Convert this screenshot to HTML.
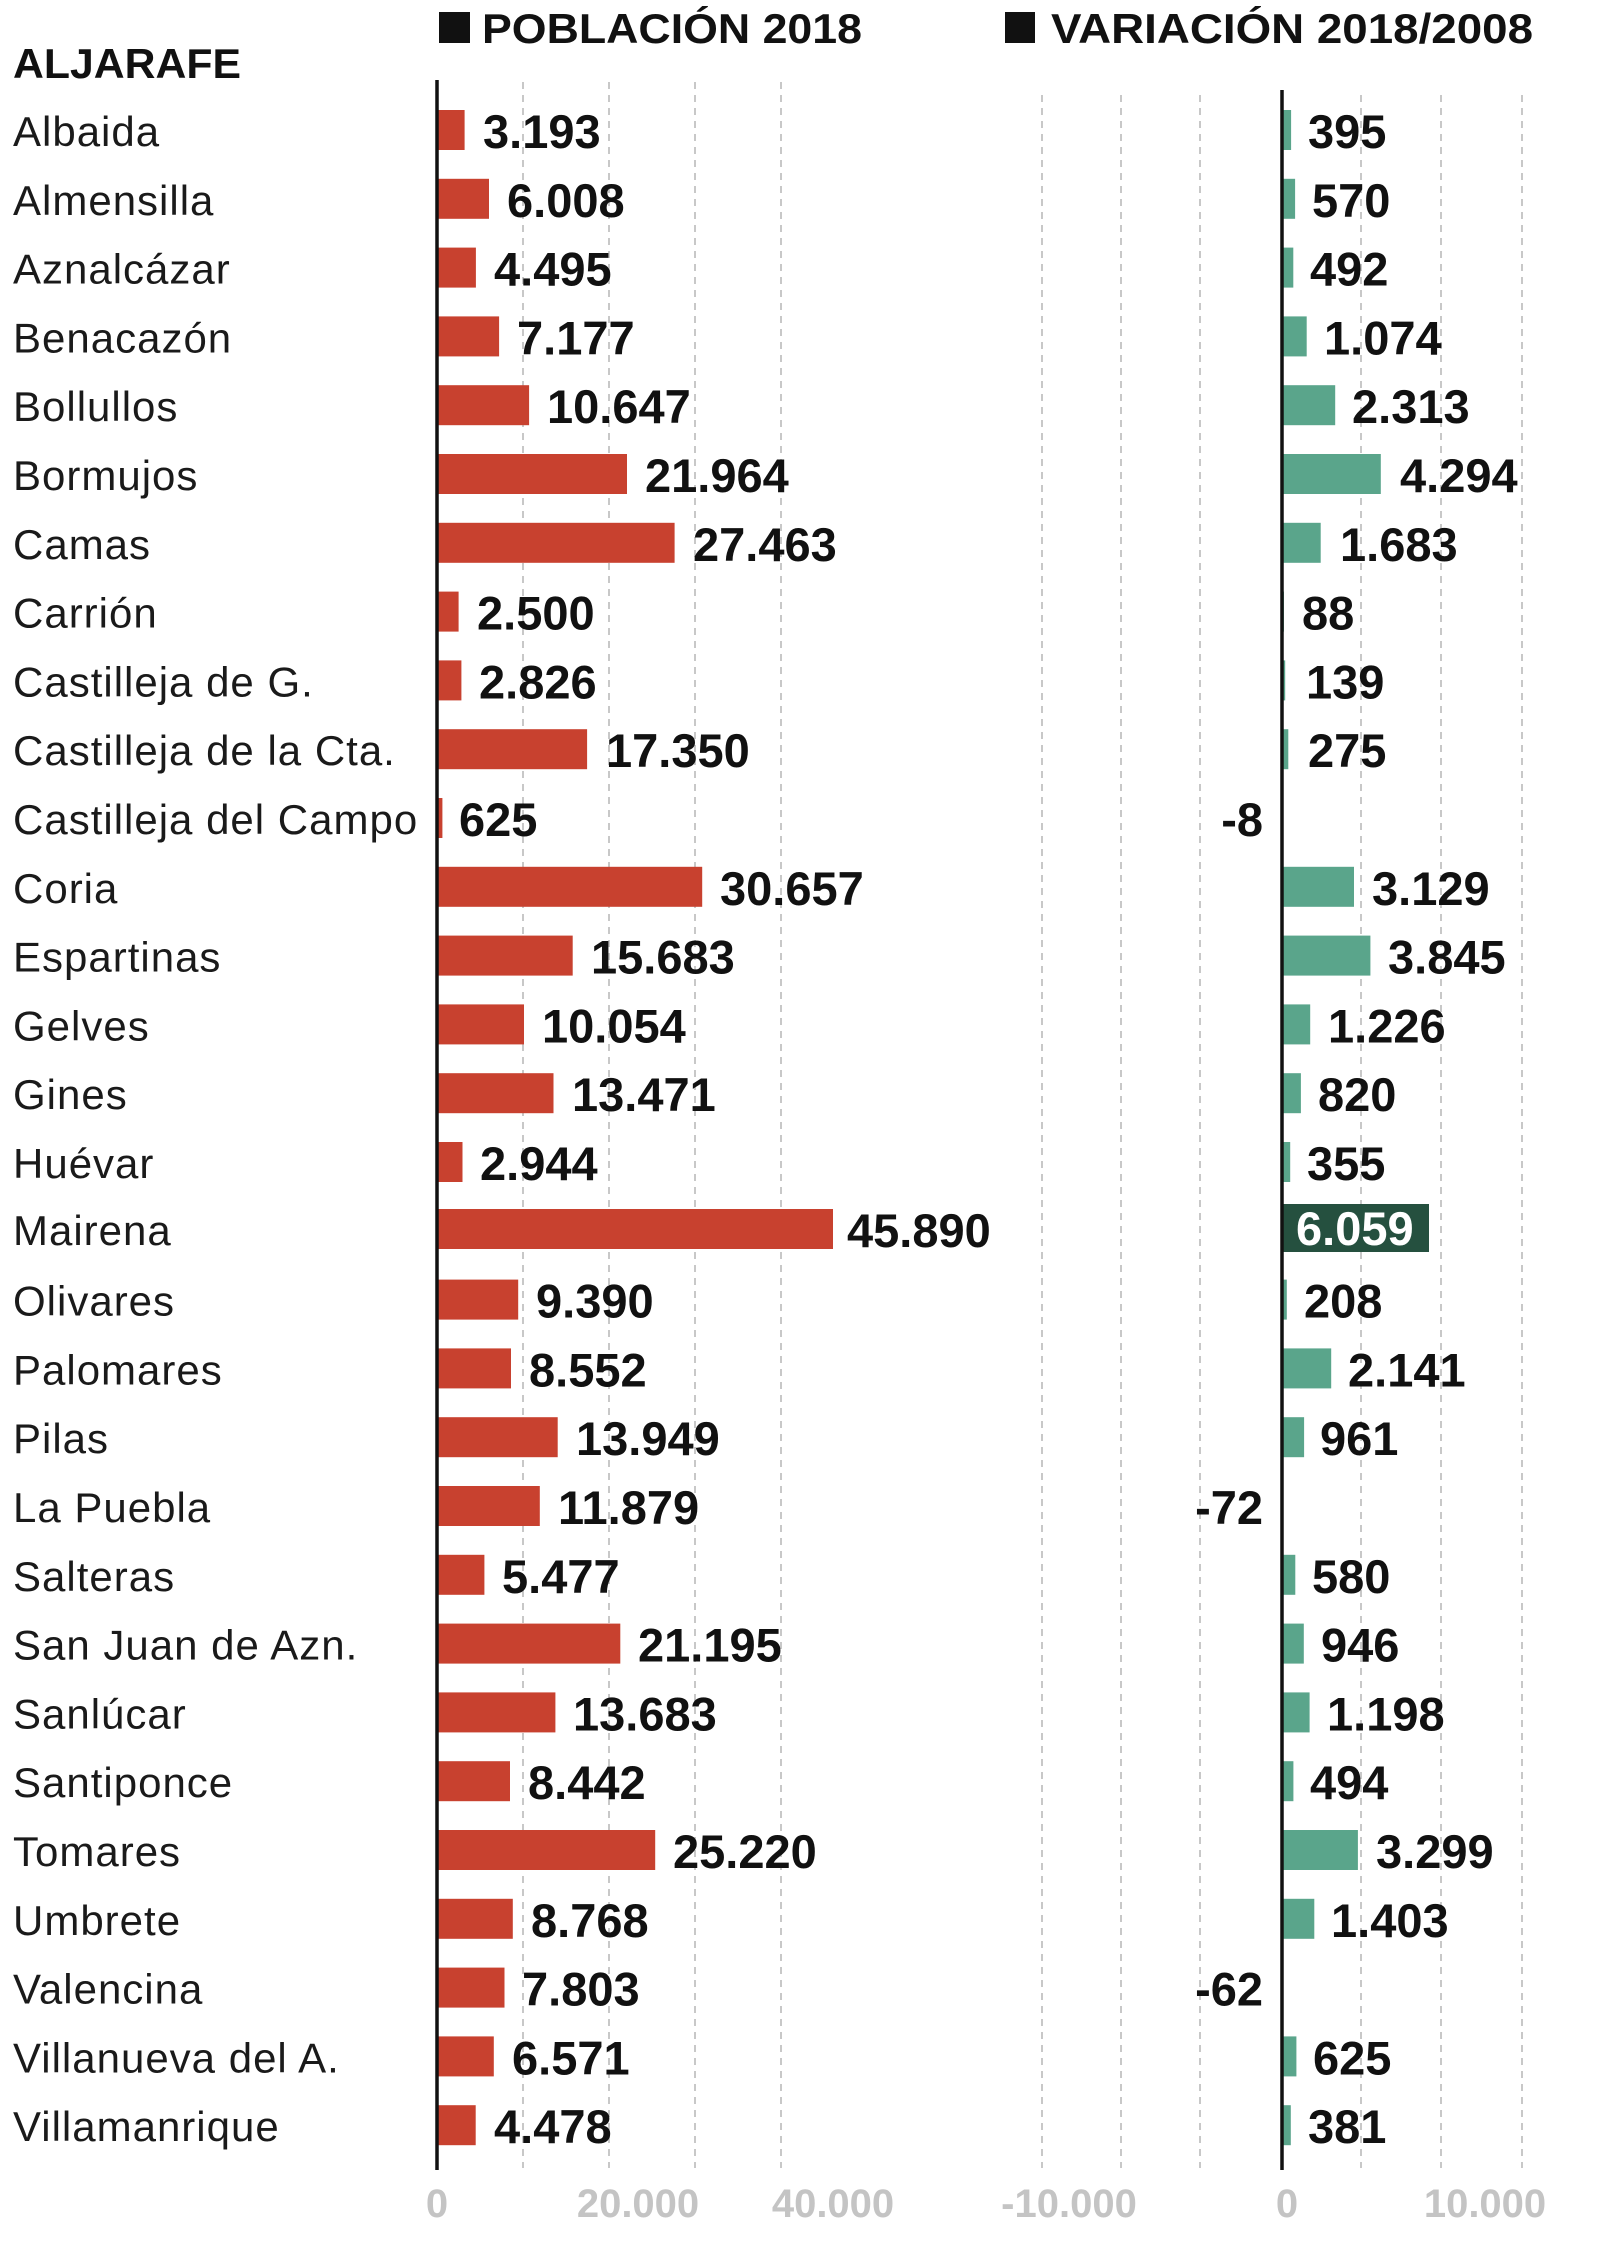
<!DOCTYPE html>
<html><head><meta charset="utf-8"><style>
html,body{margin:0;padding:0;background:#fff}
svg{display:block}
.n{font-family:"Liberation Sans",sans-serif;font-size:42px;letter-spacing:1px;fill:#1a1a1a}
.v{font-family:"Liberation Sans",sans-serif;font-weight:bold;font-size:47px;fill:#111}
.t{font-family:"Liberation Sans",sans-serif;font-weight:bold;font-size:40px;fill:#c4c4c4}
.h{font-family:"Liberation Sans",sans-serif;font-weight:bold;font-size:42px;fill:#111}
.r{fill:#c8412f}.g{fill:#5aa58b}
.gl{stroke:#c8c8c8;stroke-width:2;stroke-dasharray:7 6}
</style></head><body>
<svg width="1600" height="2245" viewBox="0 0 1600 2245" xmlns="http://www.w3.org/2000/svg">
<rect x="439" y="12" width="31" height="31" fill="#111"/>
<text class="h" x="482" y="43" textLength="380" lengthAdjust="spacingAndGlyphs">POBLACIÓN 2018</text>
<rect x="1005" y="12" width="30" height="31" fill="#111"/>
<text class="h" x="1051" y="43" textLength="482" lengthAdjust="spacingAndGlyphs">VARIACIÓN 2018/2008</text>
<text class="h" x="13" y="78" textLength="228" lengthAdjust="spacingAndGlyphs">ALJARAFE</text>
<g class="gl">
<line x1="523" y1="82" x2="523" y2="2168"/><line x1="609" y1="82" x2="609" y2="2168"/><line x1="695" y1="82" x2="695" y2="2168"/><line x1="781" y1="82" x2="781" y2="2168"/>
<line x1="1042" y1="95" x2="1042" y2="2168"/><line x1="1121" y1="95" x2="1121" y2="2168"/><line x1="1200" y1="95" x2="1200" y2="2168"/><line x1="1361" y1="95" x2="1361" y2="2168"/><line x1="1441" y1="95" x2="1441" y2="2168"/><line x1="1522" y1="95" x2="1522" y2="2168"/>
</g>
<g transform="translate(0,130)"><text class="n" x="13" y="16">Albaida</text><rect class="r" x="437" y="-20" width="27.6" height="40"/><text class="v" x="483" y="18">3.193</text><rect class="g" x="1282" y="-20" width="9.1" height="40"/><text class="v" x="1308" y="18">395</text></g>
<g transform="translate(0,198.8)"><text class="n" x="13" y="16">Almensilla</text><rect class="r" x="437" y="-20" width="52" height="40"/><text class="v" x="507" y="18">6.008</text><rect class="g" x="1282" y="-20" width="13.1" height="40"/><text class="v" x="1312" y="18">570</text></g>
<g transform="translate(0,267.6)"><text class="n" x="13" y="16">Aznalcázar</text><rect class="r" x="437" y="-20" width="38.9" height="40"/><text class="v" x="494" y="18">4.495</text><rect class="g" x="1282" y="-20" width="11.3" height="40"/><text class="v" x="1310" y="18">492</text></g>
<g transform="translate(0,336.4)"><text class="n" x="13" y="16">Benacazón</text><rect class="r" x="437" y="-20" width="62.1" height="40"/><text class="v" x="517" y="18">7.177</text><rect class="g" x="1282" y="-20" width="24.7" height="40"/><text class="v" x="1324" y="18">1.074</text></g>
<g transform="translate(0,405.2)"><text class="n" x="13" y="16">Bollullos</text><rect class="r" x="437" y="-20" width="92.1" height="40"/><text class="v" x="547" y="18">10.647</text><rect class="g" x="1282" y="-20" width="53.2" height="40"/><text class="v" x="1352" y="18">2.313</text></g>
<g transform="translate(0,474)"><text class="n" x="13" y="16">Bormujos</text><rect class="r" x="437" y="-20" width="190" height="40"/><text class="v" x="645" y="18">21.964</text><rect class="g" x="1282" y="-20" width="98.8" height="40"/><text class="v" x="1400" y="18">4.294</text></g>
<g transform="translate(0,542.8)"><text class="n" x="13" y="16">Camas</text><rect class="r" x="437" y="-20" width="237.6" height="40"/><text class="v" x="693" y="18">27.463</text><rect class="g" x="1282" y="-20" width="38.7" height="40"/><text class="v" x="1340" y="18">1.683</text></g>
<g transform="translate(0,611.6)"><text class="n" x="13" y="16">Carrión</text><rect class="r" x="437" y="-20" width="21.6" height="40"/><text class="v" x="477" y="18">2.500</text><rect class="g" x="1282" y="-20" width="2" height="40"/><text class="v" x="1302" y="18">88</text></g>
<g transform="translate(0,680.4)"><text class="n" x="13" y="16">Castilleja de G.</text><rect class="r" x="437" y="-20" width="24.4" height="40"/><text class="v" x="479" y="18">2.826</text><rect class="g" x="1282" y="-20" width="3.2" height="40"/><text class="v" x="1306" y="18">139</text></g>
<g transform="translate(0,749.2)"><text class="n" x="13" y="16">Castilleja de la Cta.</text><rect class="r" x="437" y="-20" width="150.1" height="40"/><text class="v" x="606" y="18">17.350</text><rect class="g" x="1282" y="-20" width="6.3" height="40"/><text class="v" x="1308" y="18">275</text></g>
<g transform="translate(0,818)"><text class="n" x="13" y="16">Castilleja del Campo</text><rect class="r" x="437" y="-20" width="5.4" height="40"/><text class="v" x="459" y="18">625</text><text class="v" x="1263" y="18" text-anchor="end">-8</text></g>
<g transform="translate(0,886.8)"><text class="n" x="13" y="16">Coria</text><rect class="r" x="437" y="-20" width="265.2" height="40"/><text class="v" x="720" y="18">30.657</text><rect class="g" x="1282" y="-20" width="72" height="40"/><text class="v" x="1372" y="18">3.129</text></g>
<g transform="translate(0,955.6)"><text class="n" x="13" y="16">Espartinas</text><rect class="r" x="437" y="-20" width="135.7" height="40"/><text class="v" x="591" y="18">15.683</text><rect class="g" x="1282" y="-20" width="88.4" height="40"/><text class="v" x="1388" y="18">3.845</text></g>
<g transform="translate(0,1024.4)"><text class="n" x="13" y="16">Gelves</text><rect class="r" x="437" y="-20" width="87" height="40"/><text class="v" x="542" y="18">10.054</text><rect class="g" x="1282" y="-20" width="28.2" height="40"/><text class="v" x="1328" y="18">1.226</text></g>
<g transform="translate(0,1093.2)"><text class="n" x="13" y="16">Gines</text><rect class="r" x="437" y="-20" width="116.5" height="40"/><text class="v" x="572" y="18">13.471</text><rect class="g" x="1282" y="-20" width="18.9" height="40"/><text class="v" x="1318" y="18">820</text></g>
<g transform="translate(0,1162)"><text class="n" x="13" y="16">Huévar</text><rect class="r" x="437" y="-20" width="25.5" height="40"/><text class="v" x="480" y="18">2.944</text><rect class="g" x="1282" y="-20" width="8.2" height="40"/><text class="v" x="1307" y="18">355</text></g>
<g transform="translate(0,1229)"><text class="n" x="13" y="16">Mairena</text><rect class="r" x="437" y="-20" width="396" height="40"/><text class="v" x="847" y="18">45.890</text><rect x="1282" y="-25" width="147" height="48" fill="#25503f"/><text class="v" x="1296" y="16" style="fill:#fff">6.059</text></g>
<g transform="translate(0,1299.6)"><text class="n" x="13" y="16">Olivares</text><rect class="r" x="437" y="-20" width="81.2" height="40"/><text class="v" x="536" y="18">9.390</text><rect class="g" x="1282" y="-20" width="4.8" height="40"/><text class="v" x="1304" y="18">208</text></g>
<g transform="translate(0,1368.4)"><text class="n" x="13" y="16">Palomares</text><rect class="r" x="437" y="-20" width="74" height="40"/><text class="v" x="529" y="18">8.552</text><rect class="g" x="1282" y="-20" width="49.2" height="40"/><text class="v" x="1348" y="18">2.141</text></g>
<g transform="translate(0,1437.2)"><text class="n" x="13" y="16">Pilas</text><rect class="r" x="437" y="-20" width="120.7" height="40"/><text class="v" x="576" y="18">13.949</text><rect class="g" x="1282" y="-20" width="22.1" height="40"/><text class="v" x="1320" y="18">961</text></g>
<g transform="translate(0,1506)"><text class="n" x="13" y="16">La Puebla</text><rect class="r" x="437" y="-20" width="102.8" height="40"/><text class="v" x="558" y="18">11.879</text><text class="v" x="1263" y="18" text-anchor="end">-72</text></g>
<g transform="translate(0,1574.8)"><text class="n" x="13" y="16">Salteras</text><rect class="r" x="437" y="-20" width="47.4" height="40"/><text class="v" x="502" y="18">5.477</text><rect class="g" x="1282" y="-20" width="13.3" height="40"/><text class="v" x="1312" y="18">580</text></g>
<g transform="translate(0,1643.6)"><text class="n" x="13" y="16">San Juan de Azn.</text><rect class="r" x="437" y="-20" width="183.3" height="40"/><text class="v" x="638" y="18">21.195</text><rect class="g" x="1282" y="-20" width="21.8" height="40"/><text class="v" x="1321" y="18">946</text></g>
<g transform="translate(0,1712.4)"><text class="n" x="13" y="16">Sanlúcar</text><rect class="r" x="437" y="-20" width="118.4" height="40"/><text class="v" x="573" y="18">13.683</text><rect class="g" x="1282" y="-20" width="27.6" height="40"/><text class="v" x="1327" y="18">1.198</text></g>
<g transform="translate(0,1781.2)"><text class="n" x="13" y="16">Santiponce</text><rect class="r" x="437" y="-20" width="73" height="40"/><text class="v" x="528" y="18">8.442</text><rect class="g" x="1282" y="-20" width="11.4" height="40"/><text class="v" x="1310" y="18">494</text></g>
<g transform="translate(0,1850)"><text class="n" x="13" y="16">Tomares</text><rect class="r" x="437" y="-20" width="218.2" height="40"/><text class="v" x="673" y="18">25.220</text><rect class="g" x="1282" y="-20" width="75.9" height="40"/><text class="v" x="1376" y="18">3.299</text></g>
<g transform="translate(0,1918.8)"><text class="n" x="13" y="16">Umbrete</text><rect class="r" x="437" y="-20" width="75.8" height="40"/><text class="v" x="531" y="18">8.768</text><rect class="g" x="1282" y="-20" width="32.3" height="40"/><text class="v" x="1331" y="18">1.403</text></g>
<g transform="translate(0,1987.6)"><text class="n" x="13" y="16">Valencina</text><rect class="r" x="437" y="-20" width="67.5" height="40"/><text class="v" x="522" y="18">7.803</text><text class="v" x="1263" y="18" text-anchor="end">-62</text></g>
<g transform="translate(0,2056.4)"><text class="n" x="13" y="16">Villanueva del A.</text><rect class="r" x="437" y="-20" width="56.8" height="40"/><text class="v" x="512" y="18">6.571</text><rect class="g" x="1282" y="-20" width="14.4" height="40"/><text class="v" x="1313" y="18">625</text></g>
<g transform="translate(0,2125.2)"><text class="n" x="13" y="16">Villamanrique</text><rect class="r" x="437" y="-20" width="38.7" height="40"/><text class="v" x="494" y="18">4.478</text><rect class="g" x="1282" y="-20" width="8.8" height="40"/><text class="v" x="1308" y="18">381</text></g>
<line x1="437" y1="80" x2="437" y2="2170" stroke="#111" stroke-width="3.5"/>
<line x1="1282" y1="90" x2="1282" y2="2170" stroke="#111" stroke-width="3.5"/>
<g text-anchor="middle">
<text class="t" x="437" y="2217">0</text>
<text class="t" x="638" y="2217">20.000</text>
<text class="t" x="833" y="2217">40.000</text>
<text class="t" x="1069" y="2217">-10.000</text>
<text class="t" x="1287" y="2217">0</text>
<text class="t" x="1485" y="2217">10.000</text>
</g>
</svg>
</body></html>
